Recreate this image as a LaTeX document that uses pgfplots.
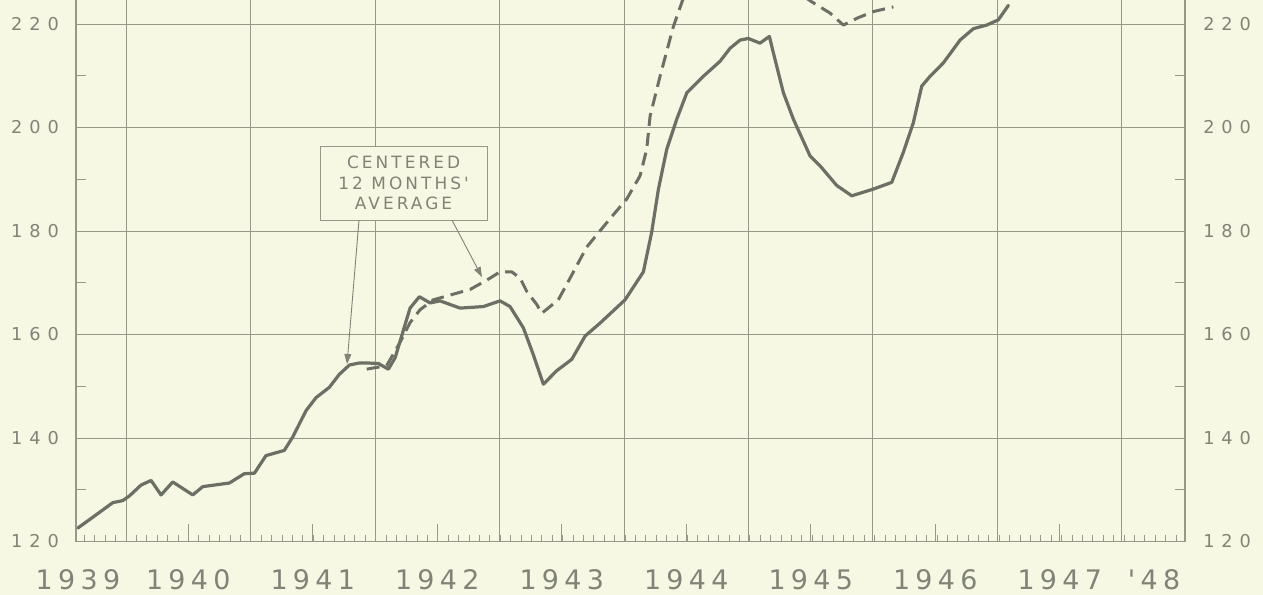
\documentclass[border=0pt]{standalone}
\usepackage{pgfplots}
\pgfplotsset{compat=1.18}
\usepackage{pgfplotstable}
\usepackage{fontspec}
\setmainfont{DejaVu Sans}
\newfontfamily\ticklab[LetterSpace=39]{DejaVu Sans}
\newfontfamily\yearlab[LetterSpace=20]{DejaVu Sans}
\newfontfamily\boxlab[LetterSpace=18]{DejaVu Sans}
\usetikzlibrary{arrows.meta}
\definecolor{bg}{RGB}{246,248,228}
\definecolor{gridc}{RGB}{150,153,138}
\definecolor{curve}{RGB}{108,112,100}
\definecolor{textc}{RGB}{128,131,117}

\pgfplotstableread{
x y
1939.612 122.6
1939.705 124.2
1939.893 127.5
1939.973 127.9
1940.027 128.8
1940.120 130.9
1940.201 131.8
1940.281 129.0
1940.375 131.5
1940.536 129.0
1940.616 130.6
1940.830 131.3
1940.950 133.1
1941.031 133.2
1941.124 136.6
1941.271 137.6
1941.339 140.2
1941.446 145.3
1941.526 147.8
1941.633 149.8
1941.713 152.3
1941.794 154.1
1941.874 154.5
1941.933 154.5
1942.027 154.4
1942.107 153.3
1942.161 155.5
1942.241 161.9
1942.281 165.1
1942.356 167.3
1942.442 166.1
1942.522 166.5
1942.683 165.1
1942.870 165.4
1943.004 166.5
1943.084 165.4
1943.191 161.3
1943.271 156.1
1943.352 150.4
1943.459 153.0
1943.580 155.2
1943.687 159.7
1943.807 162.2
1944.008 166.7
1944.155 172.1
1944.222 179.8
1944.276 188.1
1944.343 195.8
1944.423 201.6
1944.504 206.7
1944.637 209.9
1944.771 212.8
1944.851 215.3
1944.932 216.9
1944.998 217.2
1945.092 216.3
1945.167 217.6
1945.213 213.1
1945.280 206.7
1945.360 201.6
1945.494 194.5
1945.574 192.6
1945.708 188.8
1945.829 186.8
1946.002 188.1
1946.150 189.4
1946.243 195.2
1946.323 200.9
1946.391 208.0
1946.458 209.9
1946.565 212.5
1946.699 216.9
1946.806 219.1
1946.913 219.8
1947.006 220.8
1947.087 223.6
}\solid

\pgfplotstableread{
x y
1941.933 153.3
1942.094 154.0
1942.201 158.5
1942.281 162.3
1942.362 164.8
1942.468 166.7
1942.629 167.8
1942.763 168.7
1942.897 170.5
1943.004 172.1
1943.098 172.1
1943.165 170.9
1943.219 168.3
1943.299 165.8
1943.339 164.1
1943.472 166.7
1943.580 171.5
1943.700 176.9
1943.888 182.4
1944.022 186.2
1944.129 190.7
1944.182 195.8
1944.209 202.2
1944.289 209.9
1944.396 219.5
1944.476 225.0
1944.600 229.5
1944.800 232.0
1945.000 232.0
1945.200 230.0
1945.350 227.0
1945.500 224.4
1945.655 222.1
1945.761 219.8
1945.869 221.1
1946.002 222.4
1946.163 223.3
}\dashed

\begin{document}
\begin{tikzpicture}
\fill[bg] (0,0) rectangle (1263bp,595bp);
\useasboundingbox (0,0) rectangle (1263bp,595bp);
\pgfplotsset{base/.style={
  scale only axis, width=1109bp, height=541.5bp,
  xmin=1939.598, xmax=1948.506, ymin=120, ymax=224.64,
  at={(76bp,53.5bp)}, anchor=south west,
  axis line style={draw=none},
  clip mode=individual,
  tick style={draw=gridc, line width=1bp},
}}
% monthly ticks
\begin{axis}[base,
  xtick={1939.66667,1939.75,...,1948.45}, xticklabels={},
  xtick pos=bottom, tick align=inside, major tick length=6.5bp,
  ytick=\empty,
  extra x ticks={1940.5,1941.5,1942.5,1943.5,1944.5,1945.5,1946.5,1947.5},
  extra x tick labels={},
  extra x tick style={major tick length=17bp},
]
\end{axis}
% labels
\begin{axis}[base,
  xtick={1939.614,1940.5,1941.5,1942.5,1943.5,1944.5,1945.5,1946.5,1947.5,1948.257},
  xticklabels={1939,1940,1941,1942,1943,1944,1945,1946,1947,'48},
  xtick pos=bottom, major tick length=0,
  xticklabel style={font=\yearlab\fontsize{27}{30}\selectfont, text=textc, anchor=north, inner sep=0pt, yshift=-28bp},
  ytick={120,140,160,180,200,220},
  yticklabels={120,140,160,180,200,220},
  ytick pos=right, yticklabel pos=right,
  yticklabel style={font=\ticklab\fontsize{17.8}{20}\selectfont, text=textc, anchor=west, inner sep=0pt, xshift=18bp},
]
\end{axis}
% main
\begin{axis}[base,
  xtick={1940,...,1948}, xticklabels={}, xmajorgrids,
  ytick={120,140,160,180,200,220}, yticklabels={120,140,160,180,200,220}, ymajorgrids,
  major tick length=0,
  minor ytick={130,150,170,190,210}, minor tick length=10bp, tick align=inside,
  ytick pos=both, yticklabel pos=left, xtick pos=bottom,
  grid style={draw=gridc, line width=1bp},
  yticklabel style={font=\ticklab\fontsize{17.8}{20}\selectfont, text=textc, anchor=east, inner sep=0pt, xshift=-17bp},
]
\addplot[curve, line width=3.2bp, line join=round, line cap=round] table[x=x,y=y] {\solid};
\addplot[curve, line width=3bp, line join=round, dash pattern=on 13bp off 7bp] table[x=x,y=y] {\dashed};
\draw[gridc, line width=1.3bp] (rel axis cs:0,1) -- (rel axis cs:0,0) -- (rel axis cs:1,0) -- (rel axis cs:1,1);
\node[draw=gridc, line width=1bp, fill=bg, minimum width=167bp, minimum height=74bp, inner sep=0pt,
  align=center, text=textc, font=\boxlab\fontsize{17}{20.5}\selectfont]
  at (axis cs:1942.229,189.27) {CENTERED\\12 MONTHS'\\AVERAGE};
\draw[textc, line width=0.9bp, -{Triangle[length=10bp,width=7bp]}] (axis cs:1941.871,182.1) -- (axis cs:1941.775,154.3);
\draw[textc, line width=0.9bp, -{Triangle[length=10bp,width=7bp]}] (axis cs:1942.618,182.1) -- (axis cs:1942.859,171.1);
\end{axis}
\end{tikzpicture}
\end{document}
